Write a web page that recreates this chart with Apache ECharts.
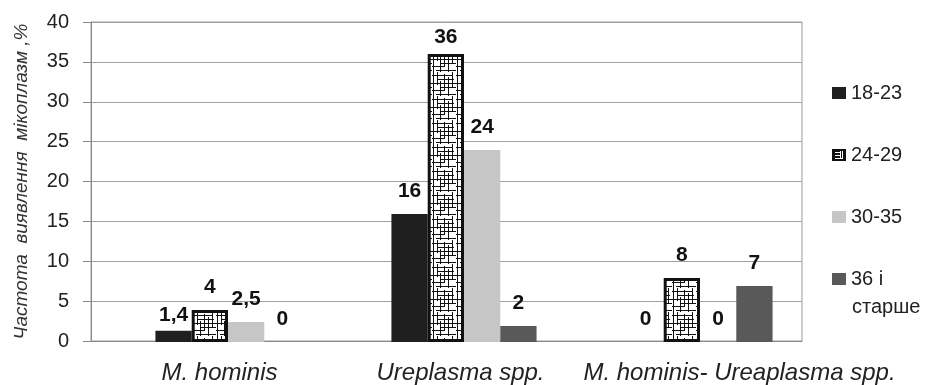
<!DOCTYPE html>
<html>
<head>
<meta charset="utf-8">
<script src="https://cdn.jsdelivr.net/npm/echarts@6/dist/echarts.min.js"></script>
<style>html,body{margin:0;padding:0;background:#fff}#c{width:935px;height:385px}</style>
</head>
<body>
<div id="c"></div>
<script>
// ---- data ----
var categories = ['M. hominis', 'Ureplasma spp.', 'M. hominis- Ureaplasma spp.'];
var seriesNames = ['18-23', '24-29', '30-35', '36 і старше'];
var s18_23 = [1.4, 16, 0];
var s24_29 = [4, 36, 8];
var s30_35 = [2.5, 24, 0];
var s36plus = [0, 2, 7];
var yTicks = [0, 5, 10, 15, 20, 25, 30, 35, 40];
var yAxisTitle = 'Частота  виявлення  мікоплазм ,%';

// ---- pattern ----
function makePattern() {
  var c = document.createElement('canvas');
  c.width = 24; c.height = 24;
  var g = c.getContext('2d');
  g.fillStyle = '#fff'; g.fillRect(0, 0, 24, 24);
  g.strokeStyle = '#111'; g.lineWidth = 1;
  var v = [[1,0,24],[5,0,13],[8,9,24],[12,2,19],[16,5,24],[20,0,15]];
  var h = [[3,0,20],[7,5,22],[11,0,24],[15,9,24],[18,0,13],[22,4,24]];
  g.beginPath();
  v.forEach(function (s) { g.moveTo(s[0] + 0.5, s[1]); g.lineTo(s[0] + 0.5, s[2]); });
  h.forEach(function (s) { g.moveTo(s[1], s[0] + 0.5); g.lineTo(s[2], s[0] + 0.5); });
  g.stroke();
  return c;
}
function makeLegendIcon() {
  var c = document.createElement('canvas');
  c.width = 14; c.height = 12;
  var g = c.getContext('2d');
  g.fillStyle = '#111'; g.fillRect(0, 0, 14, 12);
  g.strokeStyle = '#fff'; g.lineWidth = 1;
  g.beginPath();
  g.moveTo(3, 3.5); g.lineTo(8, 3.5);
  g.moveTo(3, 6.5); g.lineTo(8, 6.5);
  g.moveTo(3, 9.5); g.lineTo(11, 9.5);
  g.moveTo(8.5, 2); g.lineTo(8.5, 10);
  g.moveTo(10.5, 2); g.lineTo(10.5, 10);
  g.stroke();
  return c.toDataURL();
}
var pattern = makePattern();

var fmt = function (p) { return String(p.value).replace('.', ','); };
var font = 'Liberation Sans, Arial, sans-serif';
var labelBase = { show: true, position: 'top', distance: 12, color: '#111', fontWeight: 'bold', fontSize: 21, fontFamily: font, formatter: fmt };

function mk(arr, overrides) {
  return arr.map(function (v, i) {
    var o = { value: v };
    if (overrides && overrides[i]) o.label = overrides[i];
    return o;
  });
}

var catStyle = { color: '#222', fontSize: 24, fontStyle: 'italic', fontFamily: font };
var chart = echarts.init(document.getElementById('c'));
chart.setOption({
  animation: false,
  textStyle: { fontFamily: font },
  grid: [
    { left: 91, right: 133, top: 22, bottom: 43, show: true, borderColor: '#9a9a9a', borderWidth: 1 },
    { left: 110, right: 117, top: 22, bottom: 43 }
  ],
  xAxis: [
    { gridIndex: 0, type: 'category', data: categories,
      axisLine: { lineStyle: { color: '#8a8a8a', width: 1 } },
      axisTick: { show: false },
      axisLabel: { interval: 0, hideOverlap: false, margin: 20, color: '#222', fontSize: 24, fontStyle: 'italic', fontFamily: font,
        formatter: function (v, i) { return '{c' + i + '|' + v + '}'; },
        rich: {
          c0: Object.assign({ padding: [0, 0, 0, 20] }, catStyle),
          c1: Object.assign({ padding: [0, 0, 0, 28] }, catStyle),
          c2: Object.assign({ padding: [0, 0, 0, 112] }, catStyle)
        } } },
    { gridIndex: 1, type: 'category', data: categories, show: false }
  ],
  yAxis: [
    { gridIndex: 0, type: 'value', min: 0, max: 40, interval: 5,
      name: yAxisTitle, nameLocation: 'middle', nameRotate: 90, nameGap: 60,
      nameTextStyle: { color: '#333', fontSize: 19, fontStyle: 'italic', fontFamily: font },
      axisLine: { show: true, lineStyle: { color: '#8a8a8a', width: 1 } },
      axisTick: { show: true, length: 8, lineStyle: { color: '#8a8a8a' } },
      axisLabel: { color: '#222', fontSize: 20, margin: 22, fontFamily: font,
        formatter: function (v) { return yTicks.indexOf(v) >= 0 ? String(v) : ''; } },
      splitLine: { lineStyle: { color: '#a0a0a0', width: 1 } } },
    { gridIndex: 1, type: 'value', min: 0, max: 40, interval: 5, show: false, splitLine: { show: false } }
  ],
  legend: {
    orient: 'vertical', left: 832, top: 82, itemGap: 40, padding: 0,
    itemWidth: 14, itemHeight: 12,
    textStyle: { color: '#222', fontSize: 20, lineHeight: 22, fontFamily: font },
    formatter: function (n) { return n === '36 і старше' ? '36 і' : n; },
    data: [
      { name: seriesNames[0], icon: 'rect' },
      { name: seriesNames[1], icon: 'image://' + makeLegendIcon() },
      { name: seriesNames[2], icon: 'rect' },
      { name: seriesNames[3], icon: 'rect' }
    ]
  },
  graphic: [
    { type: 'text', left: 852, top: 297, style: { text: 'старше', fill: '#222', fontSize: 20, fontFamily: font } }
  ],
  series: [
    { name: seriesNames[0], type: 'bar', xAxisIndex: 1, yAxisIndex: 1, barGap: '0%', barCategoryGap: '38.5%',
      itemStyle: { color: '#1f1f1f' }, label: labelBase,
      data: mk(s18_23, [{ distance: 5 }]) },
    { name: seriesNames[1], type: 'bar', xAxisIndex: 1, yAxisIndex: 1, barGap: '0%', barCategoryGap: '38.5%',
      itemStyle: { color: { image: pattern, repeat: 'repeat' }, borderColor: '#111', borderWidth: 3 },
      label: labelBase, data: mk(s24_29, [null, { distance: 6 }]) },
    { name: seriesNames[2], type: 'bar', xAxisIndex: 1, yAxisIndex: 1, barGap: '0%', barCategoryGap: '38.5%',
      itemStyle: { color: '#c6c6c6' }, label: labelBase, data: mk(s30_35) },
    { name: seriesNames[3], type: 'bar', xAxisIndex: 1, yAxisIndex: 1, barGap: '0%', barCategoryGap: '38.5%',
      itemStyle: { color: '#595959' }, label: labelBase, data: mk(s36plus) }
  ]
});
</script>
</body>
</html>
